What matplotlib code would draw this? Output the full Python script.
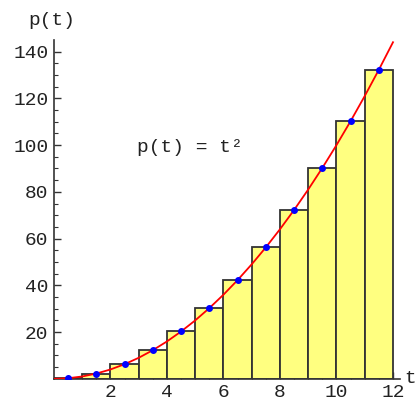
import numpy as np
import matplotlib.pyplot as plt

plt.rcParams['font.family'] = ['Liberation Mono', 'DejaVu Sans Mono']

# bars of the midpoint sum, width 1
bar_left = [0, 1, 2, 3, 4, 5, 6, 7, 8, 9, 10, 11]
bar_height = [0.25, 2.25, 6.25, 12.25, 20.25, 30.25, 42.25, 56.25, 72.25, 90.25, 110.25, 132.25]

# sample points at the bar midpoints
mid_t = [0.5, 1.5, 2.5, 3.5, 4.5, 5.5, 6.5, 7.5, 8.5, 9.5, 10.5, 11.5]
mid_p = [0.25, 2.25, 6.25, 12.25, 20.25, 30.25, 42.25, 56.25, 72.25, 90.25, 110.25, 132.25]

curve_t = [0, 0.5, 1, 1.5, 2, 2.5, 3, 3.5, 4, 4.5, 5, 5.5, 6, 6.5, 7, 7.5,
           8, 8.5, 9, 9.5, 10, 10.5, 11, 11.5, 12]
curve_p = [0, 0.25, 1, 2.25, 4, 6.25, 9, 12.25, 16, 20.25, 25, 30.25, 36, 42.25,
           49, 56.25, 64, 72.25, 81, 90.25, 100, 110.25, 121, 132.25, 144]

x_ticks = [2, 4, 6, 8, 10, 12]
y_ticks = [20, 40, 60, 80, 100, 120, 140]

fig = plt.figure(figsize=(4.15, 4.03), dpi=100)
ax = fig.add_axes([0.130, 0.060, 0.834, 0.841])

ax.bar(bar_left, bar_height, width=1, align='edge', color='#ffff80',
       edgecolor='#333333', linewidth=1.3, zorder=2)
ax.plot(curve_t, curve_p, color='red', linewidth=1.3, zorder=3)
ax.plot(mid_t, mid_p, 'o', color='blue', markersize=4, zorder=4)

ax.set_xlim(0, 12.25)
ax.set_ylim(0, 145)

for s in ['top', 'right']:
    ax.spines[s].set_visible(False)
ax.spines['left'].set_color('#333333')
ax.spines['bottom'].set_color('#333333')
ax.spines['left'].set_linewidth(1.2)
ax.spines['bottom'].set_linewidth(1.2)

ax.set_xticks(x_ticks)
ax.set_yticks(y_ticks)
ax.set_xticks(np.arange(0.5, 12.01, 0.5), minor=True)
ax.set_yticks(np.arange(5, 145, 5), minor=True)
ax.tick_params(axis='both', which='major', direction='in', length=5,
               width=1, color='#333333', labelsize=14, labelcolor='#222222', pad=4)
ax.tick_params(axis='both', which='minor', direction='in', length=3,
               width=0.8, color='#333333')

fig.text(0.125, 0.95, 'p(t)', fontsize=14, color='#222222', ha='center', va='center')
fig.text(0.988, 0.062, 't', fontsize=14, color='#222222', ha='center', va='center')
ax.text(2.95, 99, 'p(t) = t²', fontsize=14, color='#222222', ha='left', va='center')

fig.savefig('out.png', dpi=100)
